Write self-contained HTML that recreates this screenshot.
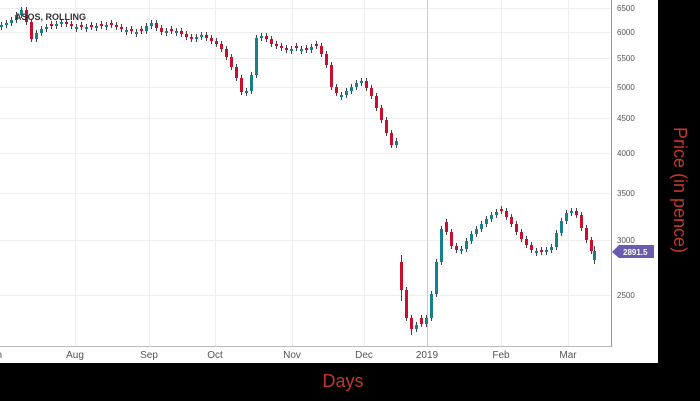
<!DOCTYPE html>
<html><head><meta charset="utf-8"><style>
html,body{margin:0;padding:0;background:#000;}
svg{display:block;font-family:"Liberation Sans",sans-serif;}
</style></head><body>
<svg width="700" height="401" xmlns="http://www.w3.org/2000/svg">
<rect x="0" y="0" width="700" height="401" fill="#000"/>
<rect x="0" y="0" width="658" height="363" fill="#fff"/>
<g stroke="#eeeeee" stroke-width="1">
<line x1="0" x2="611" y1="8.5" y2="8.5"/><line x1="0" x2="611" y1="32.5" y2="32.5"/><line x1="0" x2="611" y1="58.5" y2="58.5"/><line x1="0" x2="611" y1="87.5" y2="87.5"/><line x1="0" x2="611" y1="118.5" y2="118.5"/><line x1="0" x2="611" y1="153.5" y2="153.5"/><line x1="0" x2="611" y1="193.5" y2="193.5"/><line x1="0" x2="611" y1="240.5" y2="240.5"/><line x1="0" x2="611" y1="295.5" y2="295.5"/>
<line x1="75.5" x2="75.5" y1="0" y2="346"/><line x1="149.5" x2="149.5" y1="0" y2="346"/><line x1="215.5" x2="215.5" y1="0" y2="346"/><line x1="292.5" x2="292.5" y1="0" y2="346"/><line x1="364.5" x2="364.5" y1="0" y2="346"/><line x1="427.5" x2="427.5" y1="0" y2="346" stroke="#ccc"/><line x1="501.5" x2="501.5" y1="0" y2="346"/><line x1="568.5" x2="568.5" y1="0" y2="346"/>
</g>
<g stroke="#444" stroke-width="1" fill="none">
<path d="M1.5 22v8M6.5 20v8M11.5 17v9M16.5 12v11M21.5 7v11M36.5 30v12M41.5 26v10M46.5 24v8M56.5 21v8M61.5 19v8M76.5 24v8M86.5 24v8M96.5 23v8M106.5 22v8M126.5 27v8M136.5 29v8M146.5 23v11M151.5 20v9M166.5 28v8M176.5 28v8M196.5 34v8M201.5 32v8M246.5 88v8M251.5 72v22M256.5 35v43M261.5 33v8M291.5 46v8M301.5 46v8M311.5 44v9M341.5 92v8M346.5 88v10M351.5 84v10M356.5 80v10M361.5 78v8M396.5 138v10M416.5 322v10M426.5 315v12M431.5 291v30M436.5 259v38M441.5 226v39M461.5 246v8M466.5 238v14M471.5 231v13M476.5 226v11M481.5 221v11M486.5 216v11M491.5 212v10M496.5 209v9M536.5 248v8M546.5 247v8M551.5 244v9M556.5 230v20M561.5 218v18M566.5 210v14M571.5 208v8M594.5 246v18"/>
<path d="M26.5 7v18M31.5 19v23M51.5 21v8M66.5 19v8M71.5 21v8M81.5 22v8M91.5 22v8M101.5 21v8M111.5 20v8M116.5 22v8M121.5 24v8M131.5 26v8M141.5 26v8M156.5 20v11M161.5 25v10M171.5 26v8M181.5 28v9M186.5 31v9M191.5 34v8M206.5 32v9M211.5 35v9M216.5 38v9M221.5 41v11M226.5 46v14M231.5 54v16M236.5 64v17M241.5 75v20M266.5 33v9M271.5 36v11M276.5 41v8M281.5 43v8M286.5 45v8M296.5 43v8M306.5 45v8M316.5 41v8M321.5 43v14M326.5 51v17M331.5 62v28M336.5 84v12M366.5 78v13M371.5 85v14M376.5 93v18M381.5 105v18M386.5 117v19M391.5 130v18M401.5 255v46M406.5 287v34M411.5 315v20M421.5 315v12M446.5 219v16M451.5 229v20M456.5 243v10M501.5 206v8M506.5 208v12M511.5 214v13M516.5 221v14M521.5 229v13M526.5 236v12M531.5 242v11M541.5 247v8M576.5 208v10M581.5 212v19M586.5 225v18M591.5 237v17"/>
</g>
<path fill="#16808e" d="M0 25h3v2h-3zM5 23h3v2h-3zM10 20h3v3h-3zM15 15h3v5h-3zM20 10h3v5h-3zM35 33h3v6h-3zM40 29h3v4h-3zM45 27h3v2h-3zM55 24h3v2h-3zM60 22h3v2h-3zM75 27h3v2h-3zM85 27h3v2h-3zM95 26h3v2h-3zM105 25h3v2h-3zM125 30h3v2h-3zM135 32h3v2h-3zM145 26h3v5h-3zM150 23h3v3h-3zM165 31h3v2h-3zM175 31h3v2h-3zM195 37h3v2h-3zM200 35h3v2h-3zM245 91h3v2h-3zM250 75h3v16h-3zM255 38h3v37h-3zM260 36h3v2h-3zM290 49h3v2h-3zM300 49h3v2h-3zM310 47h3v3h-3zM340 95h3v2h-3zM345 91h3v4h-3zM350 87h3v4h-3zM355 83h3v4h-3zM360 81h3v2h-3zM395 141h3v4h-3zM415 325h3v4h-3zM425 318h3v6h-3zM430 294h3v24h-3zM435 262h3v32h-3zM440 229h3v33h-3zM460 249h3v2h-3zM465 241h3v8h-3zM470 234h3v7h-3zM475 229h3v5h-3zM480 224h3v5h-3zM485 219h3v5h-3zM490 215h3v4h-3zM495 212h3v3h-3zM535 251h3v2h-3zM545 250h3v2h-3zM550 247h3v3h-3zM555 233h3v14h-3zM560 221h3v12h-3zM565 213h3v8h-3zM570 211h3v2h-3zM593 251h3v9h-3z"/>
<path fill="#c8102e" d="M25 10h3v12h-3zM30 22h3v17h-3zM50 24h3v2h-3zM65 22h3v2h-3zM70 24h3v2h-3zM80 25h3v2h-3zM90 25h3v2h-3zM100 24h3v2h-3zM110 23h3v2h-3zM115 25h3v2h-3zM120 27h3v2h-3zM130 29h3v2h-3zM140 29h3v2h-3zM155 23h3v5h-3zM160 28h3v4h-3zM170 29h3v2h-3zM180 31h3v3h-3zM185 34h3v3h-3zM190 37h3v2h-3zM205 35h3v3h-3zM210 38h3v3h-3zM215 41h3v3h-3zM220 44h3v5h-3zM225 49h3v8h-3zM230 57h3v10h-3zM235 67h3v11h-3zM240 78h3v14h-3zM265 36h3v3h-3zM270 39h3v5h-3zM275 44h3v2h-3zM280 46h3v2h-3zM285 48h3v2h-3zM295 46h3v2h-3zM305 48h3v2h-3zM315 44h3v2h-3zM320 46h3v8h-3zM325 54h3v11h-3zM330 65h3v22h-3zM335 87h3v6h-3zM365 81h3v7h-3zM370 88h3v8h-3zM375 96h3v12h-3zM380 108h3v12h-3zM385 120h3v13h-3zM390 133h3v12h-3zM400 262h3v28h-3zM405 290h3v28h-3zM410 318h3v11h-3zM420 318h3v6h-3zM445 222h3v10h-3zM450 232h3v14h-3zM455 246h3v4h-3zM500 209h3v2h-3zM505 211h3v6h-3zM510 217h3v7h-3zM515 224h3v8h-3zM520 232h3v7h-3zM525 239h3v6h-3zM530 245h3v5h-3zM540 250h3v2h-3zM575 211h3v4h-3zM580 215h3v13h-3zM585 228h3v12h-3zM590 240h3v11h-3z"/>
<line x1="611.5" y1="0" x2="611.5" y2="347" stroke="#999"/>
<line x1="0" y1="346.5" x2="611" y2="346.5" stroke="#bbb"/>
<g font-size="8" fill="#555">
<text x="617" y="11">6500</text><text x="617" y="35">6000</text><text x="617" y="61">5500</text><text x="617" y="90">5000</text><text x="617" y="121">4500</text><text x="617" y="156">4000</text><text x="617" y="196">3500</text><text x="617" y="243">3000</text><text x="617" y="298">2500</text>
</g>
<g font-size="10" fill="#555" text-anchor="middle">
<text x="-6" y="358">Jun</text><text x="75" y="358">Aug</text><text x="149" y="358">Sep</text><text x="215" y="358">Oct</text><text x="292" y="358">Nov</text><text x="364" y="358">Dec</text><text x="427" y="358">2019</text><text x="501" y="358">Feb</text><text x="568" y="358">Mar</text>
</g>
<text x="15" y="20" font-size="9" font-weight="bold" fill="#333">ASOS, ROLLING</text>
<polygon points="612,252 619,245 654,245 654,258 619,258" fill="#6b5bb0"/>
<text x="623" y="255" font-size="8" font-weight="bold" fill="#fff">2891.5</text>
<text x="343" y="387" font-size="18" fill="#c0392b" text-anchor="middle">Days</text>
<text transform="translate(674,190) rotate(90)" font-size="18" fill="#c0392b" text-anchor="middle">Price (in pence)</text>
</svg>
</body></html>
